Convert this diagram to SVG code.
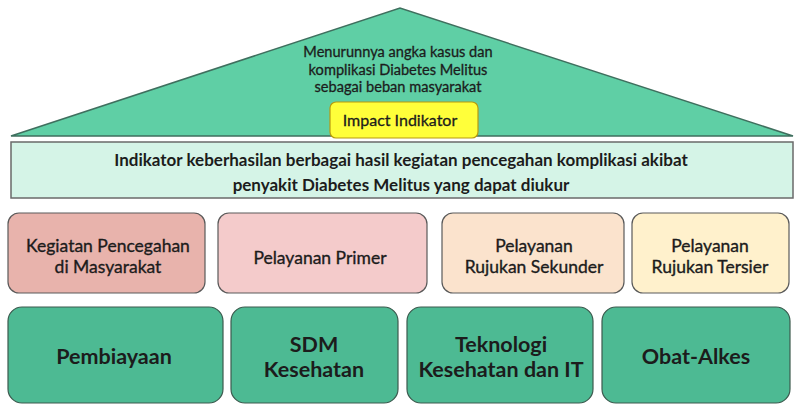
<svg xmlns="http://www.w3.org/2000/svg" width="800" height="412" viewBox="0 0 800 412">
<style>
text{font-family:Lato,"Open Sans","Liberation Sans",sans-serif;fill:#1c1c1c;text-anchor:middle}
.top{font-size:14.6px;stroke:#1c1c1c;stroke-width:0.3}
.band{font-size:17px;font-weight:bold}
.mid{font-size:17.5px;stroke:#1c1c1c;stroke-width:0.35}
.bot{font-size:21.5px;font-weight:bold}
.mbox{stroke:#5a5a5a;stroke-width:1.2}
.bbox{fill:#4dba93;stroke:#3c5a4e;stroke-width:1.2}
</style>
<rect width="800" height="412" fill="#ffffff"/>
<g id="roof">
<polygon points="11,136 400,8 793,136" fill="#5fcfa5" stroke="#3f6f5e" stroke-width="1.5"/>
<text class="top" x="398" y="57">Menurunnya angka kasus dan</text>
<text class="top" x="398" y="74.5">komplikasi Diabetes Melitus</text>
<text class="top" x="398" y="92">sebagai beban masyarakat</text>
</g>
<g id="impact">
<rect x="330" y="102" width="148" height="36" rx="6" fill="#ffff3a" stroke="#b89a10" stroke-width="1.2"/>
<text x="400" y="126" style="font-size:16px;stroke:#1c1c1c;stroke-width:0.3">Impact Indikator</text>
</g>
<g id="band">
<rect x="11" y="142" width="782" height="56" fill="#d5f4e7" stroke="#6a6a6a" stroke-width="1.5"/>
<text class="band" x="401" y="166">Indikator keberhasilan berbagai hasil kegiatan pencegahan komplikasi akibat</text>
<text class="band" x="401" y="191">penyakit Diabetes Melitus yang dapat diukur</text>
</g>
<g id="kegiatan">
<rect class="mbox" x="8" y="213" width="197" height="80" rx="11" fill="#e8b3ac"/>
<text class="mid" x="108" y="252">Kegiatan Pencegahan</text>
<text class="mid" x="108" y="273">di Masyarakat</text>
</g>
<g id="primer">
<rect class="mbox" x="218" y="213" width="209" height="80" rx="11" fill="#f4cbcb"/>
<text class="mid" x="320" y="264">Pelayanan Primer</text>
</g>
<g id="sekunder">
<rect class="mbox" x="442" y="213" width="182" height="80" rx="11" fill="#fbe3cd"/>
<text class="mid" x="534" y="252">Pelayanan</text>
<text class="mid" x="534" y="273">Rujukan Sekunder</text>
</g>
<g id="tersier">
<rect class="mbox" x="632" y="213" width="157" height="80" rx="11" fill="#fff1cc"/>
<text class="mid" x="710" y="252">Pelayanan</text>
<text class="mid" x="710" y="273">Rujukan Tersier</text>
</g>
<g id="pembiayaan">
<rect class="bbox" x="8" y="307" width="215" height="96" rx="14"/>
<text class="bot" x="114" y="364">Pembiayaan</text>
</g>
<g id="sdm">
<rect class="bbox" x="231" y="307" width="167" height="96" rx="14"/>
<text class="bot" x="314" y="352">SDM</text>
<text class="bot" x="314" y="377">Kesehatan</text>
</g>
<g id="teknologi">
<rect class="bbox" x="407" y="307" width="186" height="96" rx="14"/>
<text class="bot" x="501" y="352">Teknologi</text>
<text class="bot" x="501" y="377">Kesehatan dan IT</text>
</g>
<g id="obat">
<rect class="bbox" x="602" y="307" width="188" height="96" rx="14"/>
<text class="bot" x="696" y="364">Obat-Alkes</text>
</g>
<g id="connectors"/>
</svg>
